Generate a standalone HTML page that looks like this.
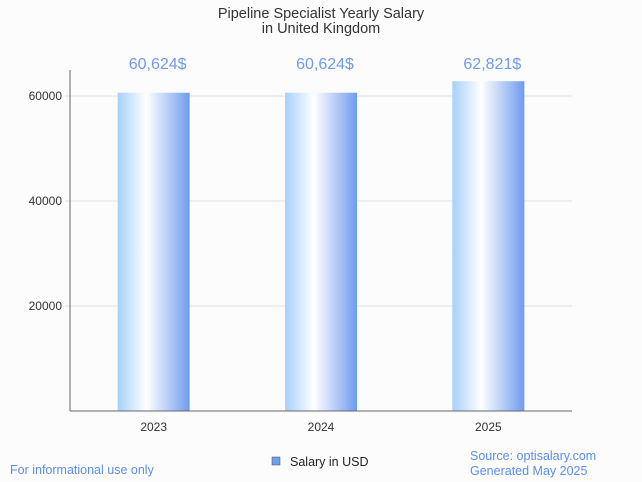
<!DOCTYPE html>
<html><head><meta charset="utf-8"><style>
body{margin:0;background:#fcfcfc;font-family:"Liberation Sans",sans-serif;}
svg{display:block}
</style></head><body>
<svg width="642" height="482" xmlns="http://www.w3.org/2000/svg">
<defs><linearGradient id="g" x1="0" x2="1" y1="0" y2="0">
<stop offset="0" stop-color="#a6d0fb"/><stop offset="0.4" stop-color="#ffffff"/><stop offset="1" stop-color="#6f9bef"/>
</linearGradient></defs>
<rect width="642" height="482" fill="#fcfcfc"/>
<text x="321" y="18" text-anchor="middle" font-size="14.5" fill="#333">Pipeline Specialist Yearly Salary</text>
<text x="321" y="33" text-anchor="middle" font-size="14.5" fill="#333">in United Kingdom</text>
<g id="grid"></g><g id="bars"></g>
<line x1="70" y1="70" x2="70" y2="411" stroke="#666"/>
<line x1="70" y1="411" x2="572" y2="411" stroke="#666"/>
<text x="10" y="474" font-size="12.5" fill="#5b8fe8">For informational use only</text>
<rect x="272" y="457" width="8" height="8" fill="#6fa0e8" stroke="#456" stroke-width="0.5"/>
<text x="290" y="466" font-size="12.5" fill="#222">Salary in USD</text>
<text x="470" y="460" font-size="12.5" fill="#5b8fe8">Source: optisalary.com</text>
<text x="470" y="475" font-size="12.5" fill="#5b8fe8">Generated May 2025</text>
</svg>
<script>
const categories=["2023","2024","2025"];
const values=[60624,60624,62821];
const valueLabels=["60,624$","60,624$","62,821$"];
const yTicks=[20000,40000,60000];
const ns="http://www.w3.org/2000/svg";
const x0=70,x1=572,yZero=411,pxPer=105/20000;
const y=v=>yZero-v*pxPer;
const band=(x1-x0)/categories.length;
const grid=document.getElementById('grid'),bars=document.getElementById('bars');
function mk(t,a,p){const e=document.createElementNS(ns,t);for(const k in a)e.setAttribute(k,a[k]);p.appendChild(e);return e;}
yTicks.forEach(t=>{
  const l=mk('line',{x1:x0-5,x2:x1,y1:y(t),y2:y(t),stroke:'#e2e2e2'},grid);
  
  
  const tx=mk('text',{x:x0-8,y:y(t)+4,'text-anchor':'end','font-size':12,fill:'#333'},grid);
  tx.textContent=t;
  
  
});
categories.forEach((c,i)=>{
  const cx=x0+band*(i+0.5);
  const r=mk('rect',{x:cx-36,width:72,y:y(values[i]),height:yZero-y(values[i]),fill:'url(#g)'},bars);
  
  
  const v=mk('text',{x:cx+4,y:69,'text-anchor':'middle','font-size':16,fill:'#6f9be8'},bars);
  v.textContent=valueLabels[i];
  
  
  const xl=mk('text',{x:cx,y:431,'text-anchor':'middle','font-size':12,fill:'#333'},bars);
  xl.textContent=c;
  
  
});
</script>
</body></html>
